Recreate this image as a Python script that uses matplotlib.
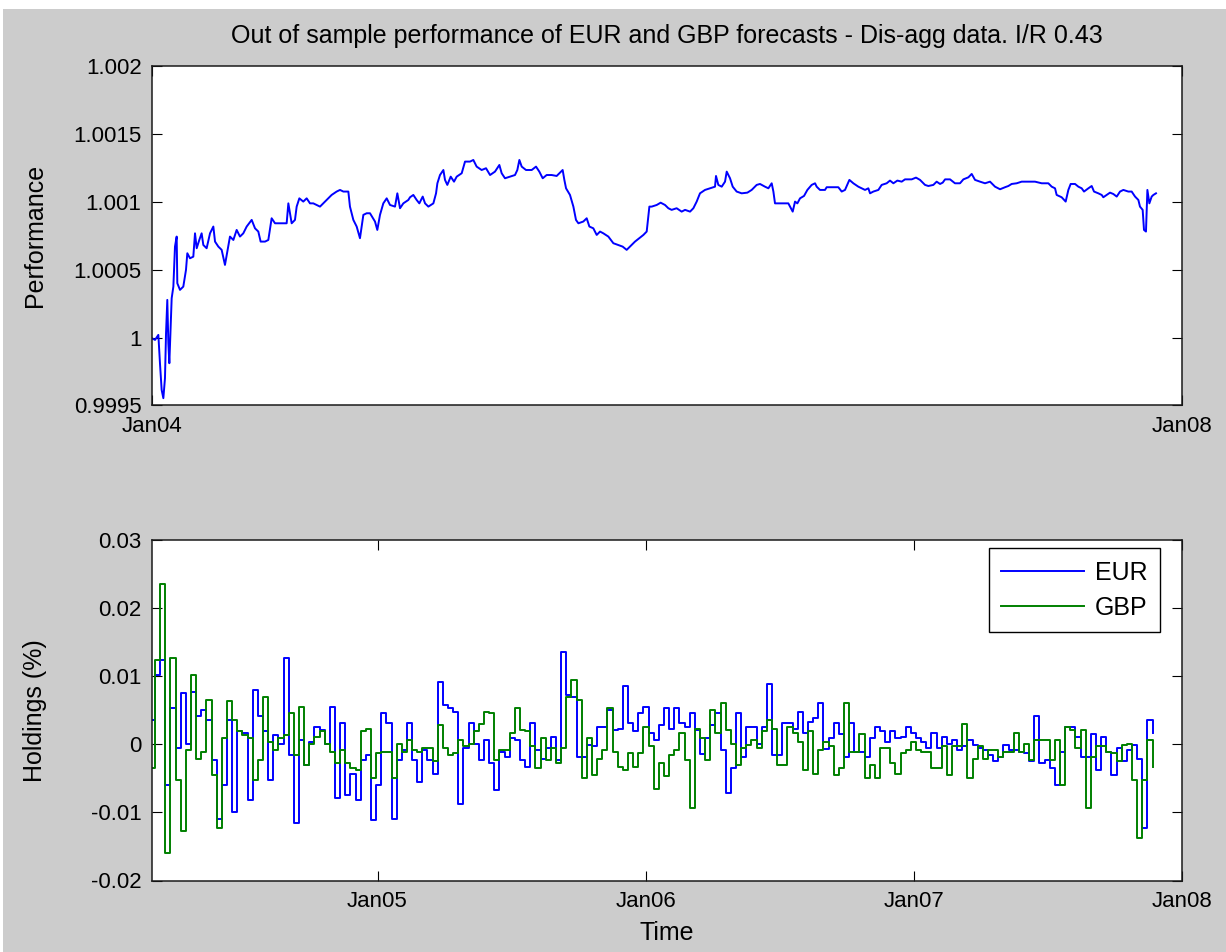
import numpy as np
import pandas as pd
import matplotlib
matplotlib.use("Agg")
import matplotlib.pyplot as plt
import matplotlib.dates as mdates
from matplotlib.ticker import MultipleLocator, FuncFormatter
from matplotlib.patches import Rectangle

TITLE = "Out of sample performance of EUR and GBP forecasts - Dis-agg data. I/R 0.43"
SERIES = ["EUR", "GBP"]

# ---- performance curve: days since 2004-01-01 and value ----
perf_day = [
    0, 4.3, 9.0, 11.3, 13.7, 16.1, 18.4, 19.9, 21.7, 23.2,
    24.6, 25.5, 27.9, 30.3, 32.6, 35.0, 35.9, 39.7, 44.4, 48.2,
    50.1, 53.9, 58.6, 61.0, 63.4, 67.1, 70.4, 72.8, 77.5, 82.3,
    87.0, 89.4, 94.1, 98.8, 103.5, 106.9, 110.6, 115.4, 120.1, 124.8,
    129.5, 134.3, 141.4, 146.1, 150.8, 154.1, 160.3, 165.0, 169.7, 174.5,
    191.0, 193.4, 198.1, 202.8, 205.2, 209.0, 214.6, 219.4, 224.1, 228.8,
    238.3, 247.7, 254.8, 261.9, 266.7, 271.4, 278.5, 280.8, 285.6, 290.3,
    295.0, 299.8, 304.5, 309.2, 316.3, 319.6, 323.4, 328.1, 332.9, 337.6,
    344.7, 348.0, 351.8, 356.5, 363.6,
    366.0, 370.7, 375.4, 379.2, 384.0, 387.3, 392.0, 399.1, 402.9, 404.8,
    408.5, 413.3, 415.6, 418.9, 423.7, 428.4, 432.2, 439.3, 444.0, 451.1,
    455.8, 460.5, 467.6, 473.8, 479.5, 486.5, 492.7, 496.0, 500.7, 507.8,
    514.9, 518.2, 521.1, 524.4, 530.5, 538.6, 544.7, 549.4, 554.2, 559.8,
    566.9, 574.0, 582.5, 584.9, 587.3, 592.9, 597.7, 601.4, 604.8, 611.8,
    616.6, 620.4, 626.0, 630.8, 635.5, 640.2, 647.3, 654.4, 661.5, 667.6,
    673.3, 678.0, 685.1, 691.3, 697.0, 701.7, 705.5, 708.8, 715.9, 721.5,
    727.7, 732.4,
    737.1, 744.2, 751.3, 756.1, 763.2, 767.9, 772.6, 777.3, 784.4, 791.5,
    798.6, 800.0, 803.3, 808.1, 812.8, 815.2, 819.9, 823.7, 829.3, 836.4,
    844.5, 850.6, 857.7, 862.4, 869.5, 874.3, 879.0, 881.4, 883.7, 890.8,
    902.6, 908.8, 912.1, 915.4, 919.2, 924.9, 929.6, 935.7, 940.5, 942.8,
    947.5, 954.6, 957.0, 966.5, 973.5, 978.3, 983.0, 989.2, 994.8, 1001.9,
    1006.6, 1011.4, 1016.1, 1018.5, 1023.2, 1030.3, 1035.0, 1042.1, 1046.8, 1051.6,
    1057.3, 1063.4, 1068.1, 1077.6, 1083.7, 1089.4, 1096.5, 1101.2,
    1108.3, 1113.0, 1117.8, 1121.6, 1124.9, 1132.0, 1139.0, 1146.1, 1150.9, 1158.0,
    1162.7, 1167.4, 1174.5, 1181.6, 1188.7, 1195.8, 1202.9, 1210.0, 1214.7, 1219.4,
    1226.5, 1233.6, 1243.1, 1252.5, 1262.0, 1271.4, 1276.2, 1280.9, 1283.2, 1290.3,
    1296.0, 1299.8, 1303.1, 1309.3, 1314.0, 1318.7, 1322.0, 1328.2, 1332.9, 1336.2,
    1342.3, 1347.1, 1349.4, 1354.2, 1358.9, 1363.6, 1368.4, 1373.1, 1377.8, 1384.9,
    1389.6, 1394.4, 1399.1, 1401.4, 1405.2, 1407.1, 1409.9, 1411.9, 1414.7, 1418.0,
    1420.4, 1424.1,
]
perf_value = [
    0.999995, 0.999983, 1.000020, 0.999811, 0.999614, 0.999553, 0.999700, 1.000032, 1.000278, 0.999958,
    0.999811, 0.999946, 1.000290, 1.000376, 1.000671, 1.000745, 1.000401, 1.000352, 1.000376, 1.000499,
    1.000622, 1.000585, 1.000597, 1.000769, 1.000659, 1.000720, 1.000769, 1.000683, 1.000659, 1.000769,
    1.000819, 1.000708, 1.000671, 1.000647, 1.000536, 1.000634, 1.000745, 1.000720, 1.000794, 1.000745,
    1.000769, 1.000819, 1.000868, 1.000806, 1.000782, 1.000708, 1.000708, 1.000720, 1.000880, 1.000843,
    1.000843, 1.000990, 1.000843, 1.000868, 1.000966, 1.001027, 1.001003, 1.001027, 1.000990, 1.000990,
    1.000966, 1.001015, 1.001052, 1.001077, 1.001089, 1.001077, 1.001077, 1.000966, 1.000868, 1.000819,
    1.000733, 1.000905, 1.000917, 1.000917, 1.000856, 1.000794, 1.000905, 1.000990, 1.001027, 1.000978,
    1.000966, 1.001064, 1.000954, 1.000990, 1.001015,
    1.001035, 1.001052, 1.001015, 1.000990, 1.001040, 1.000990, 1.000966, 1.000990, 1.001064, 1.001138,
    1.001199, 1.001236, 1.001163, 1.001126, 1.001187, 1.001150, 1.001187, 1.001212, 1.001298, 1.001298,
    1.001310, 1.001261, 1.001236, 1.001249, 1.001199, 1.001224, 1.001273, 1.001212, 1.001175, 1.001187,
    1.001199, 1.001236, 1.001310, 1.001261, 1.001236, 1.001236, 1.001261, 1.001224, 1.001175, 1.001199,
    1.001199, 1.001192, 1.001236, 1.001163, 1.001101, 1.001052, 1.000966, 1.000868, 1.000843, 1.000856,
    1.000880, 1.000819, 1.000806, 1.000757, 1.000782, 1.000769, 1.000745, 1.000696, 1.000683, 1.000671,
    1.000647, 1.000671, 1.000708, 1.000733, 1.000757, 1.000782, 1.000966, 1.000966, 1.000978, 1.000995,
    1.000978, 1.000954,
    1.000942, 1.000954, 1.000929, 1.000942, 1.000929, 1.000954, 1.001003, 1.001064, 1.001089, 1.001101,
    1.001113, 1.001192, 1.001126, 1.001113, 1.001150, 1.001224, 1.001175, 1.001113, 1.001077, 1.001064,
    1.001069, 1.001089, 1.001126, 1.001133, 1.001113, 1.001101, 1.001138, 1.001077, 1.000990, 1.000990,
    1.000990, 1.000929, 1.001003, 1.000990, 1.001027, 1.001045, 1.001089, 1.001126, 1.001138, 1.001113,
    1.001089, 1.001089, 1.001109, 1.001109, 1.001109, 1.001077, 1.001089, 1.001163, 1.001138, 1.001113,
    1.001101, 1.001089, 1.001101, 1.001064, 1.001077, 1.001089, 1.001126, 1.001138, 1.001158, 1.001138,
    1.001158, 1.001150, 1.001167, 1.001167, 1.001180, 1.001163, 1.001126, 1.001118,
    1.001126, 1.001150, 1.001133, 1.001143, 1.001167, 1.001167, 1.001138, 1.001138, 1.001167, 1.001182,
    1.001207, 1.001163, 1.001150, 1.001138, 1.001150, 1.001113, 1.001094, 1.001109, 1.001118, 1.001133,
    1.001138, 1.001150, 1.001150, 1.001150, 1.001138, 1.001138, 1.001113, 1.001101, 1.001052, 1.001035,
    1.001003, 1.001089, 1.001133, 1.001133, 1.001113, 1.001101, 1.001077, 1.001101, 1.001118, 1.001077,
    1.001064, 1.001052, 1.001035, 1.001052, 1.001069, 1.001059, 1.001040, 1.001077, 1.001089, 1.001077,
    1.001077, 1.001040, 1.001015, 1.000966, 1.000942, 1.000794, 1.000782, 1.001089, 1.000990, 1.001040,
    1.001052, 1.001064,
]

# ---- weekly holdings ----
hold_start = "2004-02-26"
eur = [
    0.0036, 0.0102, 0.0124, -0.0060, 0.0053, -0.0006, 0.0075, 0.0001, 0.0077, 0.0041,
    0.0050, 0.0036, -0.0023, -0.0109, -0.0060, 0.0036, -0.0099, 0.0019, 0.0016, -0.0082,
    0.0080, 0.0041, 0.0020, -0.0052, 0.0014, 0.0001, 0.0126, -0.0016, -0.0116, 0.0006,
    -0.0030, 0.0003, 0.0026, 0.0021, 0.0001, 0.0055, -0.0079, 0.0032, -0.0074, -0.0043,
    -0.0082, -0.0023, -0.0016, -0.0111, -0.0060, 0.0046, 0.0032, -0.0109, -0.0023, -0.0008,
    0.0031, -0.0023, -0.0055, -0.0008, -0.0023, -0.0043, 0.0092, 0.0058, 0.0053, 0.0048,
    -0.0087, -0.0006, 0.0032, 0.0001, -0.0023, 0.0006, -0.0028, -0.0067, -0.0011, -0.0018,
    0.0009, 0.0006, -0.0023, -0.0033, 0.0031, -0.0008, -0.0021, -0.0006, 0.0011, -0.0023,
    0.0135, 0.0072, 0.0070, -0.0018, -0.0018, -0.0001, -0.0003, 0.0026, 0.0026, 0.0050,
    0.0021, 0.0023, 0.0085, 0.0031, 0.0019, 0.0046, 0.0055, 0.0016, 0.0006, 0.0028,
    0.0053, 0.0023, 0.0053, 0.0031, 0.0026, 0.0046, 0.0021, -0.0014, 0.0009, 0.0028,
    0.0046, -0.0008, -0.0072, -0.0035, 0.0046, -0.0018, 0.0026, 0.0026, 0.0001, 0.0026,
    0.0089, -0.0016, -0.0016, 0.0032, 0.0032, 0.0023, 0.0048, 0.0016, 0.0033, 0.0038,
    0.0060, -0.0007, 0.0009, 0.0032, 0.0015, -0.0018, 0.0031, -0.0011, -0.0011, -0.0018,
    0.0009, 0.0026, 0.0019, 0.0004, 0.0019, 0.0009, 0.0011, 0.0026, 0.0016, 0.0009,
    0.0004, -0.0006, 0.0016, -0.0006, 0.0011, 0.0001, 0.0006, -0.0008, -0.0003, 0.0006,
    -0.0001, -0.0006, -0.0008, -0.0016, -0.0024, -0.0018, -0.0001, -0.0008, -0.0008, -0.0011,
    -0.0013, -0.0025, 0.0041, -0.0028, -0.0023, -0.0035, -0.0060, -0.0011, 0.0026, 0.0026,
    0.0011, -0.0018, -0.0018, 0.0015, -0.0038, 0.0011, -0.0011, -0.0045, -0.0006, -0.0025,
    -0.0008, -0.0001, -0.0021, -0.0123, 0.0036, 0.0016,
]
gbp = [
    -0.0035, 0.0124, 0.0236, -0.0160, 0.0126, -0.0052, -0.0128, -0.0008, 0.0102, -0.0021,
    -0.0011, 0.0065, -0.0045, -0.0123, 0.0009, 0.0063, 0.0036, 0.0019, 0.0014, 0.0009,
    -0.0052, -0.0023, 0.0070, 0.0004, -0.0008, 0.0009, 0.0014, 0.0046, -0.0016, 0.0055,
    -0.0030, 0.0001, 0.0011, 0.0019, 0.0001, -0.0011, -0.0028, -0.0008, -0.0028, -0.0035,
    -0.0038, 0.0019, 0.0023, -0.0050, -0.0013, -0.0011, -0.0011, -0.0050, 0.0001, -0.0011,
    0.0006, -0.0008, -0.0011, -0.0006, -0.0006, -0.0025, 0.0028, -0.0006, -0.0016, -0.0013,
    0.0006, -0.0003, 0.0001, 0.0019, 0.0030, 0.0048, 0.0046, -0.0023, -0.0008, -0.0008,
    0.0016, 0.0053, 0.0021, 0.0019, -0.0003, -0.0035, 0.0009, -0.0023, -0.0006, -0.0028,
    -0.0006, 0.0070, 0.0094, 0.0065, -0.0050, 0.0009, -0.0045, -0.0021, -0.0008, 0.0053,
    -0.0011, -0.0033, -0.0038, -0.0013, -0.0033, -0.0013, 0.0026, -0.0003, -0.0065, -0.0028,
    -0.0047, -0.0016, -0.0008, 0.0016, -0.0023, -0.0094, 0.0023, 0.0009, -0.0023, 0.0050,
    0.0016, 0.0060, 0.0021, 0.0001, -0.0030, -0.0006, -0.0001, 0.0006, -0.0006, 0.0019,
    0.0036, 0.0023, -0.0030, -0.0030, 0.0026, 0.0016, 0.0004, -0.0038, 0.0019, -0.0043,
    -0.0008, 0.0004, -0.0003, -0.0045, -0.0035, 0.0060, -0.0011, -0.0011, 0.0015, -0.0050,
    -0.0030, -0.0050, -0.0006, -0.0006, -0.0028, -0.0043, -0.0013, -0.0008, 0.0004, -0.0008,
    -0.0011, -0.0011, -0.0035, -0.0035, -0.0003, -0.0045, -0.0003, -0.0003, 0.0030, -0.0050,
    -0.0021, -0.0003, -0.0021, -0.0008, -0.0008, -0.0018, -0.0011, -0.0011, 0.0016, -0.0011,
    0.0001, -0.0023, 0.0006, 0.0006, 0.0006, -0.0023, 0.0006, -0.0060, 0.0026, 0.0021,
    -0.0006, 0.0021, -0.0094, -0.0018, -0.0003, -0.0003, -0.0011, -0.0013, -0.0025, -0.0001,
    0.0001, -0.0052, -0.0138, -0.0052, 0.0006, -0.0033,
]

top_xticks = ["2004-01-01", "2008-01-01"]
bottom_xticks = ["2005-01-01", "2006-01-01", "2007-01-01", "2008-01-01"]
top_xlim = ["2004-01-01", "2008-01-01"]
bottom_xlim = ["2004-02-29", "2008-01-01"]

# ---- styling ----
FONT = "Liberation Sans"
FS = 16        # tick labels
FS_LAB = 18    # title, axis labels, legend
LW = 1.4
BG = "#cccccc"
plt.rcParams["font.family"] = [FONT, "DejaVu Sans"]
plt.rcParams["font.size"] = FS

W, H = 1226, 952
fig = plt.figure(figsize=(W / 100, H / 100), dpi=100, facecolor=BG)
fig.patches.append(Rectangle((0, 1 - 9 / H), 1, 9 / H, transform=fig.transFigure,
                             facecolor="white", edgecolor="none", zorder=-1))
fig.patches.append(Rectangle((0, 0), 3 / W, 1, transform=fig.transFigure,
                             facecolor="white", edgecolor="none", zorder=-1))


def rect(l, t, r, b):
    return [l / W, 1 - b / H, (r - l) / W, (b - t) / H]


ax1 = fig.add_axes(rect(152, 66.4, 1182, 405.4))
ax2 = fig.add_axes(rect(152, 540, 1182, 880.5))

base = pd.Timestamp("2004-01-01")
perf_t = mdates.date2num(base + pd.to_timedelta(perf_day, unit="D"))
hold_t = mdates.date2num(pd.date_range(hold_start, periods=len(eur), freq="7D"))

ax1.plot(perf_t, perf_value, color="#0000ff", lw=LW)
ax2.plot(hold_t, eur, drawstyle="steps-post", color="#0000ff", lw=LW, label=SERIES[0])
ax2.plot(hold_t, gbp, drawstyle="steps-post", color="#008000", lw=LW, label=SERIES[1])

fmt_g = FuncFormatter(lambda v, p: "{:g}".format(round(v, 6)))

ax1.set_xlim(mdates.date2num(pd.to_datetime(top_xlim)))
ax1.set_ylim(0.9995, 1.002)
ax1.yaxis.set_major_locator(MultipleLocator(0.0005))
ax1.set_xticks(mdates.date2num(pd.to_datetime(top_xticks)))

ax2.set_xlim(mdates.date2num(pd.to_datetime(bottom_xlim)))
ax2.set_ylim(-0.02, 0.03)
ax2.yaxis.set_major_locator(MultipleLocator(0.01))
ax2.set_xticks(mdates.date2num(pd.to_datetime(bottom_xticks)))

for ax in (ax1, ax2):
    ax.set_facecolor("white")
    ax.yaxis.set_major_formatter(fmt_g)
    ax.xaxis.set_major_formatter(mdates.DateFormatter("%b%y"))
    ax.tick_params(direction="in", top=True, right=True, length=7.5, width=0.8,
                   pad=7.5, labelsize=FS, colors="#000000")
    for s in ax.spines.values():
        s.set_linewidth(1.1)
        s.set_color("#1a1a1a")

ax1.set_title(TITLE, fontsize=FS_LAB, pad=17)
ax1.set_ylabel("Performance", fontsize=FS_LAB)
ax2.set_ylabel("Holdings (%)", fontsize=FS_LAB)
ax2.set_xlabel("Time", fontsize=FS_LAB)
ax1.yaxis.set_label_coords(-0.102, 0.5)
ax2.yaxis.set_label_coords(-0.102, 0.5)
ax2.xaxis.set_label_coords(0.5, -0.12)

leg = ax2.legend(loc="upper right", bbox_to_anchor=(0.9786, 0.9765), borderaxespad=0,
                 fancybox=False, shadow=False, framealpha=1, edgecolor="#000000",
                 fontsize=FS_LAB, handlelength=3.3, handletextpad=0.45, borderpad=0.5,
                 labelspacing=0.45)
leg.get_frame().set_linewidth(1.0)
for line in leg.get_lines():
    line.set_linewidth(LW)

fig.savefig("out.png", dpi=100, facecolor=BG)
